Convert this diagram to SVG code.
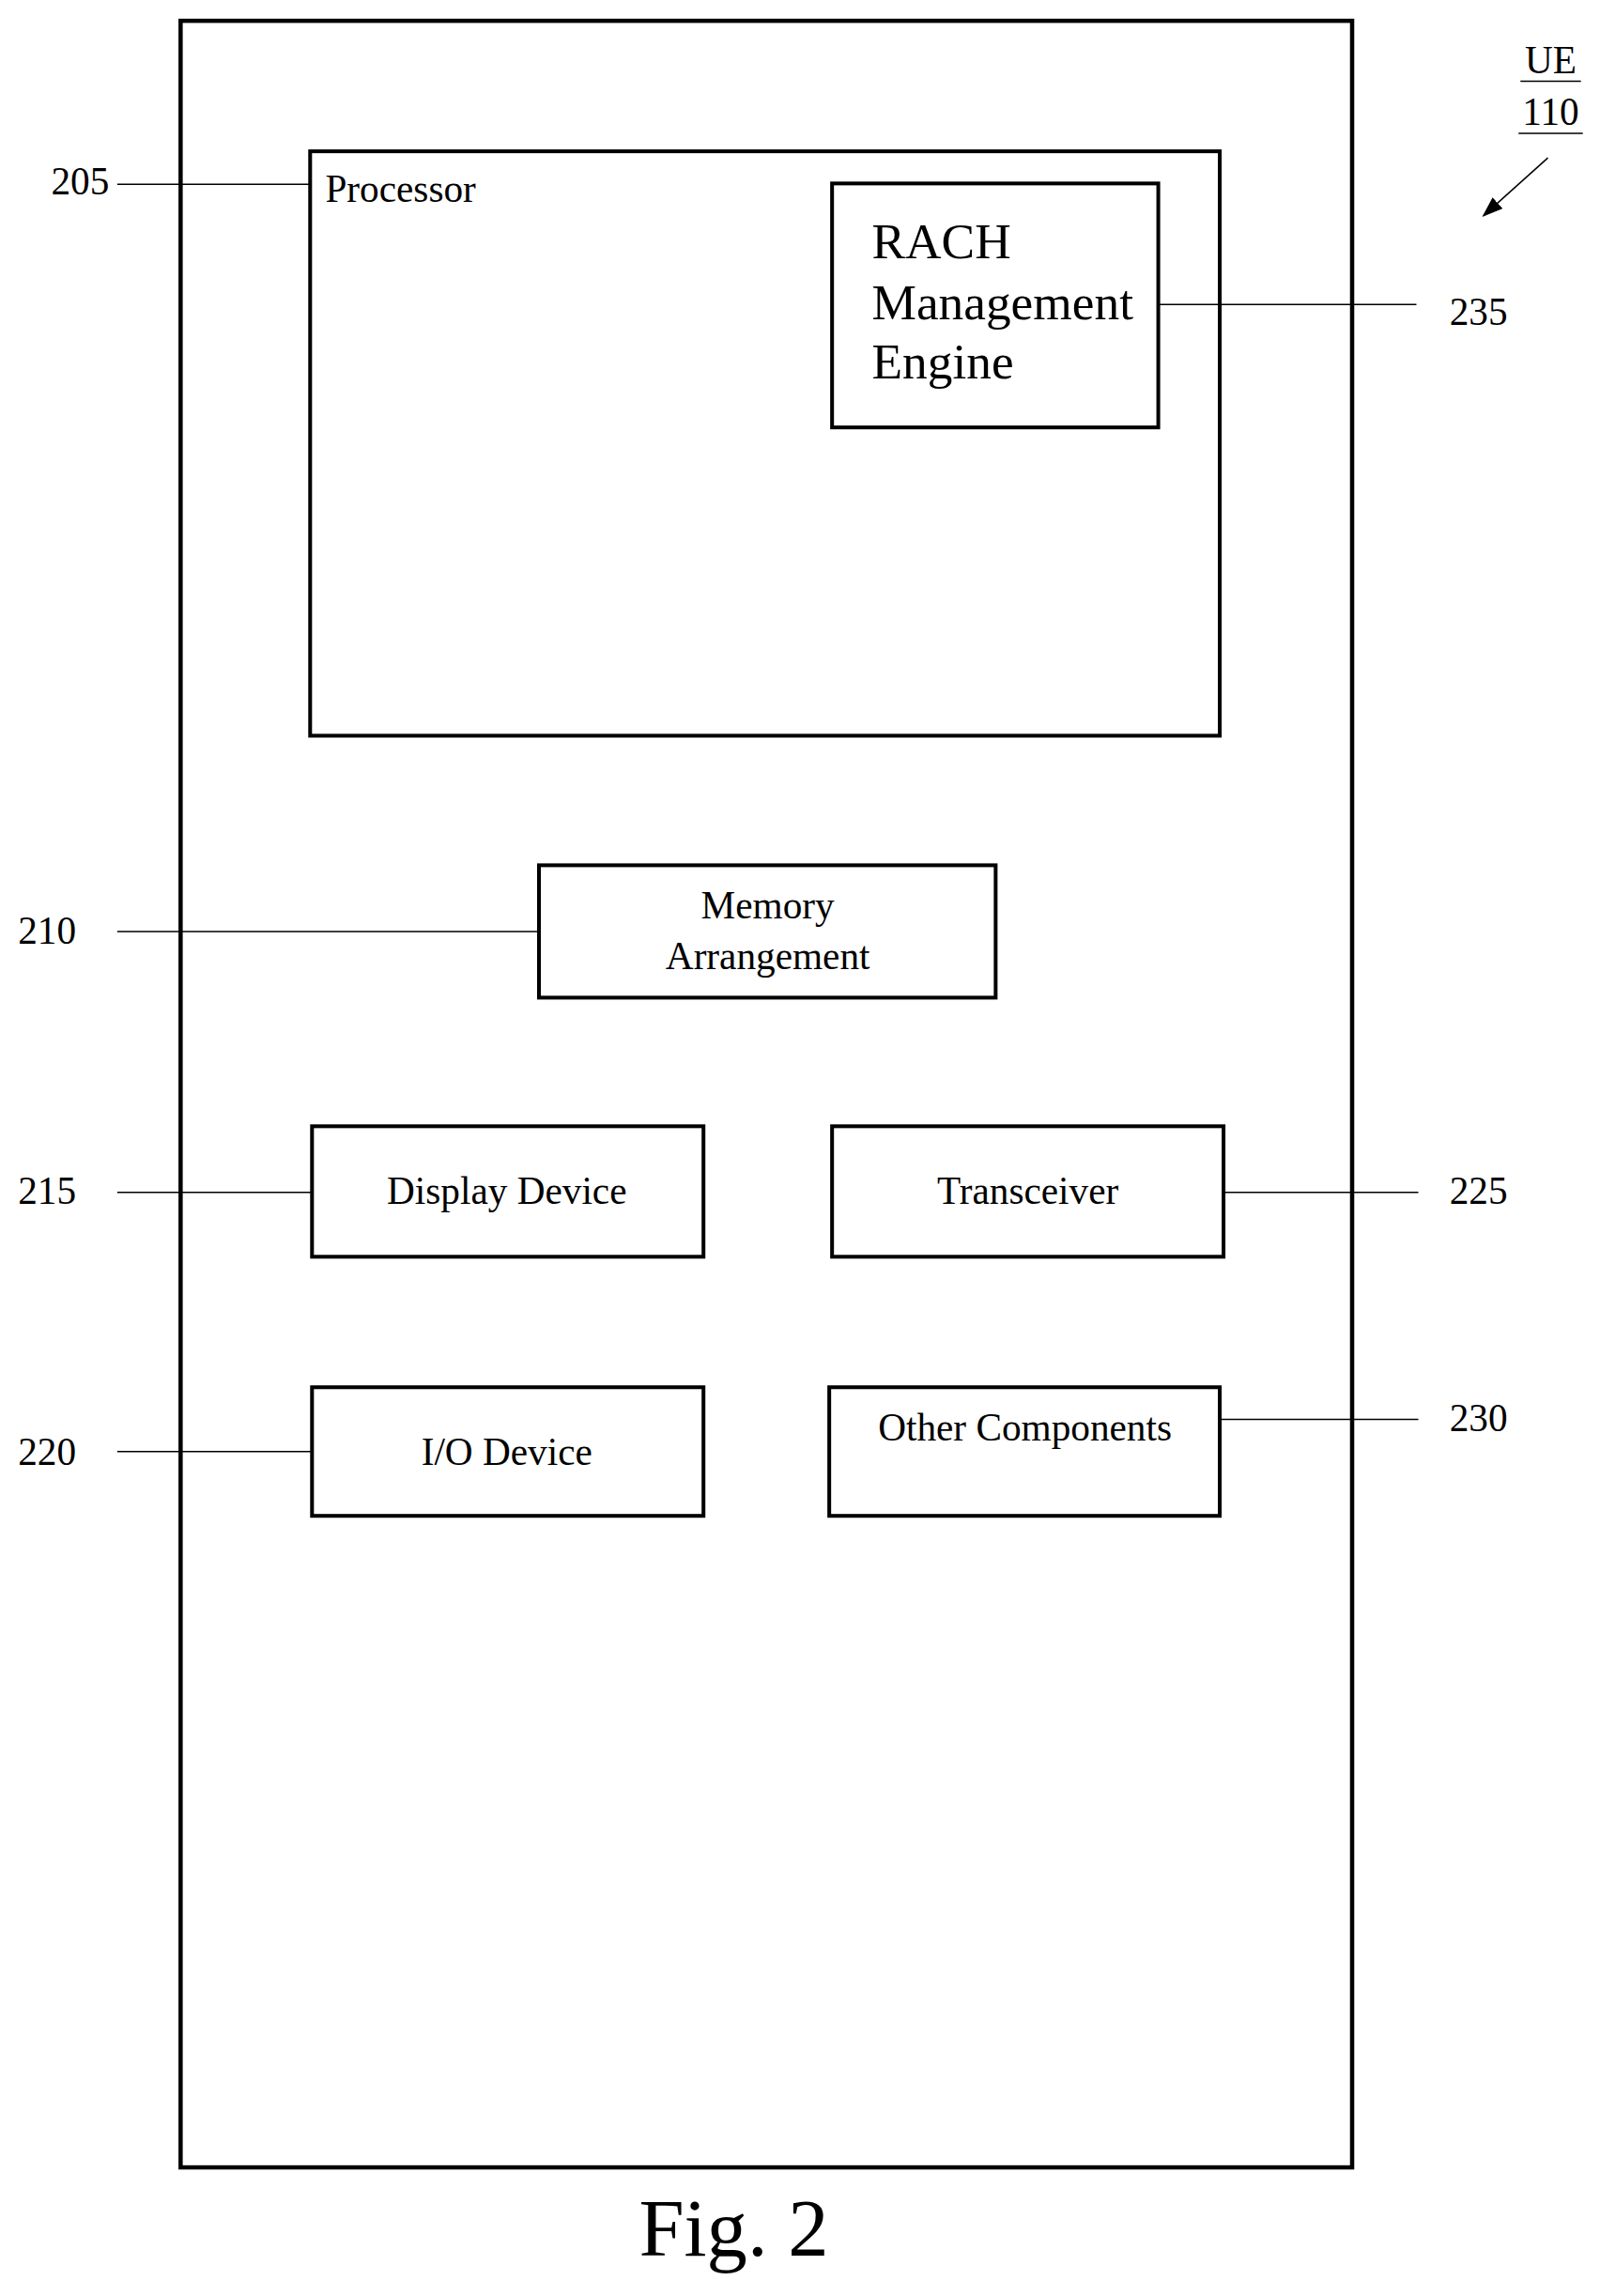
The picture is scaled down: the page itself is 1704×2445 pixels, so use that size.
<svg xmlns="http://www.w3.org/2000/svg" width="1704" height="2445" viewBox="0 0 1704 2445">
<defs><style>
.b{fill:none;stroke:#000;stroke-width:4}
.l{stroke:#000;stroke-width:1.5;fill:none}
text{font-family:"Liberation Serif",serif;fill:#000}
.t{font-size:41px}
.m{text-anchor:middle}
</style>
<marker id="a" markerWidth="22" markerHeight="16" refX="20" refY="8" orient="auto" markerUnits="userSpaceOnUse"><path d="M0,0 L22,8 L0,16 z" fill="#000"/></marker>
</defs>
<rect width="1704" height="2445" fill="#fff"/>
<g transform="scale(1.007)">
<g id="ue"><rect class="b" x="191" y="22" width="1239" height="2270" style="stroke-width:4.5"/>
<text class="t m" x="1640" y="77">UE</text><line class="l" x1="1608" y1="86" x2="1672" y2="86"/>
<text class="t m" x="1640" y="132">110</text><line class="l" x1="1606" y1="141" x2="1674" y2="141"/></g>
<g id="processor"><rect class="b" x="328" y="160" width="962" height="618"/><text class="t" x="344" y="214">Processor</text></g>
<g id="rach"><rect class="b" x="880" y="194" width="345" height="258"/>
<text x="922" y="273" font-size="53">RACH</text><text x="922" y="338" font-size="53">Management</text><text x="922" y="400" font-size="53">Engine</text></g>
<g id="memory"><rect class="b" x="570" y="915" width="483" height="140"/><text class="t m" x="812" y="971">Memory</text><text class="t m" x="812" y="1025">Arrangement</text></g>
<g id="display"><rect class="b" x="330" y="1191" width="414" height="138"/><text class="t m" x="536" y="1273">Display Device</text></g>
<g id="transceiver"><rect class="b" x="880" y="1191" width="414" height="138"/><text class="t m" x="1087" y="1273">Transceiver</text></g>
<g id="io"><rect class="b" x="330" y="1467" width="414" height="136"/><text class="t m" x="536" y="1549">I/O Device</text></g>
<g id="other"><rect class="b" x="877" y="1467" width="413" height="136"/><text class="t m" x="1084" y="1523">Other Components</text></g>
<g id="labels" class="t">
<text class="t" x="54" y="206">205</text><text class="t" x="1533" y="344">235</text>
<text class="t" x="19" y="998">210</text><text class="t" x="19" y="1273">215</text><text class="t" x="1533" y="1273">225</text>
<text class="t" x="19" y="1549">220</text><text class="t" x="1533" y="1513">230</text>
<text x="776" y="2385" font-size="86" class="m">Fig. 2</text></g>
<g id="connectors">
<line class="l" x1="124" y1="195" x2="328" y2="195"/>
<line class="l" x1="1225" y1="322" x2="1498" y2="322"/>
<line class="l" x1="124" y1="985" x2="570" y2="985"/>
<line class="l" x1="124" y1="1261" x2="330" y2="1261"/>
<line class="l" x1="1294" y1="1261" x2="1500" y2="1261"/>
<line class="l" x1="124" y1="1535" x2="330" y2="1535"/>
<line class="l" x1="1290" y1="1501" x2="1500" y2="1501"/>
<line class="l" x1="1637" y1="167" x2="1569" y2="228" marker-end="url(#a)"/>
</g>
</g>
</svg>
